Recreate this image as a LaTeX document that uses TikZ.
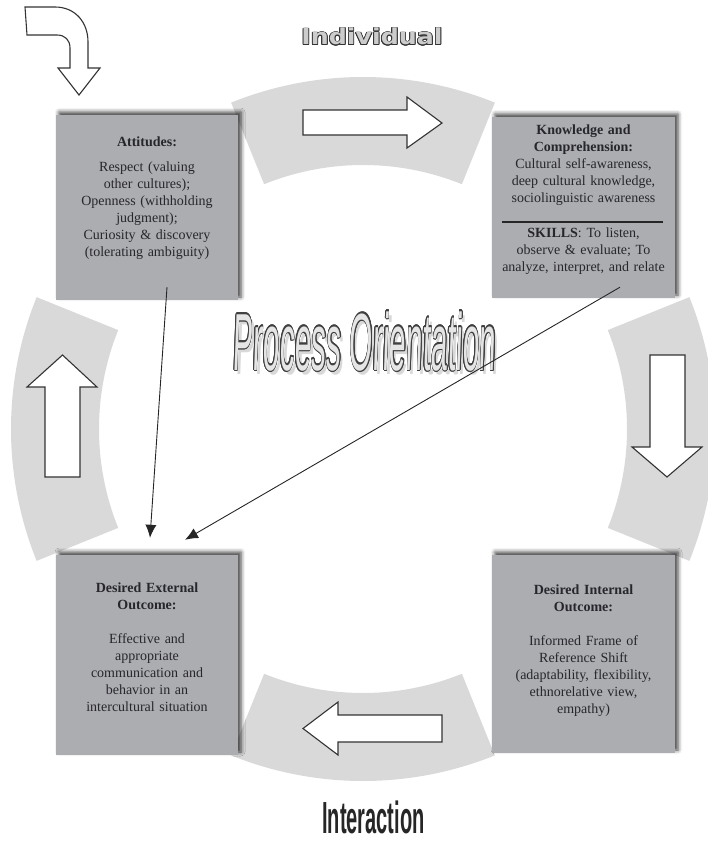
\documentclass[tikz,border=0pt]{standalone}
\usepackage{fontspec}
\setmainfont{Liberation Serif}
\newfontfamily\widesans{DejaVu Sans}[FakeStretch=1.15]
\newfontfamily\plainsans{Liberation Sans}
\usepackage[copies]{contour}
\usetikzlibrary{arrows.meta,shadows.blur}
\definecolor{ringgray}{RGB}{217,217,217}
\definecolor{boxgray}{RGB}{172,173,177}
\definecolor{inkgray}{RGB}{38,38,44}

\begin{document}
\begin{tikzpicture}[x=1pt,y=-1pt,
  ringseg/.style={fill=ringgray},
  blockarrow/.style={fill=white,draw=black!80,line width=1.1pt,line join=miter},
  card/.style={fill=boxgray,draw=none,inner sep=0pt,
    blur shadow={shadow xshift=3pt,shadow yshift=3pt,shadow blur radius=4pt,shadow opacity=75}},
  cardtext/.style={anchor=north,inner sep=0pt,align=center,text width=176pt,
    font=\fontsize{14}{17}\selectfont,text=inkgray},
  conn/.style={draw=black!85,line width=0.9pt,-{Latex[length=13pt,width=11pt]}},
]
\useasboundingbox (0,0) rectangle (708,843);

% ring segments around the centre of the cycle
\begin{scope}[shift={(363,429)}]
  \fill[ringseg] (248:352) arc[start angle=248,end angle=292,radius=352]
     -- (292:264) arc[start angle=292,end angle=248,radius=264] -- cycle;
  \fill[ringseg] (-22:352) arc[start angle=-22,end angle=22,radius=352]
     -- (22:264) arc[start angle=22,end angle=-22,radius=264] -- cycle;
  \fill[ringseg] (68:352) arc[start angle=68,end angle=112,radius=352]
     -- (112:264) arc[start angle=112,end angle=68,radius=264] -- cycle;
  \fill[ringseg] (158:352) arc[start angle=158,end angle=202,radius=352]
     -- (202:264) arc[start angle=202,end angle=158,radius=264] -- cycle;
\end{scope}

% block arrows along the cycle
\draw[blockarrow] (303,110) -- (407,110) -- (407,97) -- (442,123) -- (407,148) -- (407,135) -- (303,135) -- cycle;
\draw[blockarrow] (650,355) -- (685,355) -- (685,447) -- (702,447) -- (667,477) -- (632,447) -- (650,447) -- cycle;
\draw[blockarrow] (442,715) -- (338,715) -- (338,702) -- (303,728.5) -- (338,755) -- (338,742) -- (442,742) -- cycle;
\draw[blockarrow] (45,477) -- (45,387) -- (27,387) -- (62.5,355) -- (97,387) -- (80,387) -- (80,477) -- cycle;

% entry arrow
\draw[blockarrow] (25,7) -- (55,7) .. controls (75,7) and (88,22) .. (88,42) -- (88,68) -- (100,68)
   -- (79,95) -- (58,68) -- (70,68) -- (70,48) .. controls (70,40) and (65,35) .. (57,35) -- (27,35) -- cycle;

% the four cards
\node[card,minimum width=182pt,minimum height=185pt] (att) at (147,207.5) {};
\node[card,minimum width=183pt,minimum height=181pt] (know) at (583.5,207.5) {};
\node[card,minimum width=182pt,minimum height=200pt] (ext) at (147,655) {};
\node[card,minimum width=183pt,minimum height=198pt] (int) at (583.5,654) {};

\node[cardtext] (atttext) at (147,137) {\textbf{Attitudes:}\\[8pt]Respect (valuing\\other cultures);\\Openness (withholding\\judgment);\\Curiosity \& discovery\\(tolerating ambiguity)};
\node[cardtext] (knowtext) at (583.5,125) {\textbf{Knowledge and}\\\textbf{Comprehension:}\\Cultural self-awareness,\\deep cultural knowledge,\\sociolinguistic awareness\\[18pt]\textbf{SKILLS}: To listen,\\observe \& evaluate; To\\analyze, interpret, and relate};
\draw[line width=1.3pt,black!85] (502,222) -- (663,222);
\node[cardtext] (exttext) at (147,583) {\textbf{Desired External}\\\textbf{Outcome:}\\[17pt]Effective and\\appropriate\\communication and\\behavior in an\\intercultural situation};
\node[cardtext] (inttext) at (583.5,585) {\textbf{Desired Internal}\\\textbf{Outcome:}\\[17pt]Informed Frame of\\Reference Shift\\(adaptability, flexibility,\\ethnorelative view,\\empathy)};

% headings
\node[anchor=base,inner sep=0pt,text=gray!40,font=\widesans\bfseries\fontsize{22}{22}\selectfont] (indiv) at (372,45)
  {\contourlength{0.8pt}\contour{black!80}{Individual}};

\begin{scope}[shift={(367,374)}]
  \node[anchor=base,inner sep=0pt,xscale=0.37,xslant=0.1,transform shape,text=black!30,opacity=0.5,
    font=\plainsans\fontsize{81}{81}\selectfont] (procshade) at (0,0) {Process Orientation};
\end{scope}
\begin{scope}[shift={(364,370)}]
  \node[anchor=base,inner sep=0pt,xscale=0.37,xslant=0.1,transform shape,text=gray!20,
    font=\plainsans\fontsize{81}{81}\selectfont] (proc) at (0,0) {\contourlength{1.4pt}\contour{black!75}{Process Orientation}};
\end{scope}

\begin{scope}[shift={(373.5,833)}]
  \node[anchor=base,inner sep=0pt,xscale=0.445,transform shape,text=black!85,
    font=\plainsans\bfseries\fontsize{45}{45}\selectfont] (inter) at (0,0) {Interaction};
\end{scope}

% influence connectors
\draw[conn] ([xshift=20pt,yshift=13pt]att.south) -- ([xshift=3pt,yshift=17pt]ext.north);
\draw[conn] ([xshift=36.5pt,yshift=11pt]know.south) -- ([xshift=38pt,yshift=15pt]ext.north);
\end{tikzpicture}
\end{document}
